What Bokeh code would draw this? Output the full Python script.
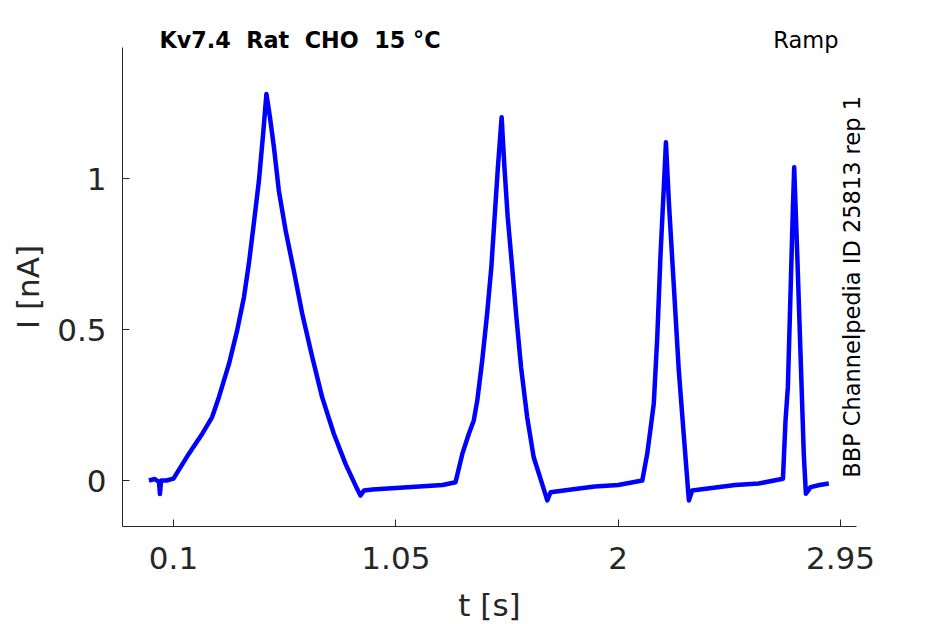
import math
from bokeh.plotting import figure
from bokeh.models import Range1d, FixedTicker, Label
from bokeh.embed import file_html
from bokeh.resources import INLINE

# ---- data (time in s, current in nA) ----
t_s = [
    -0.005, 0.02, 0.038, 0.042, 0.047, 0.07, 0.10,
    0.165, 0.223, 0.265, 0.294, 0.337, 0.372, 0.401, 0.422, 0.443, 0.465, 0.483, 0.497,
    0.512, 0.529, 0.55, 0.579, 0.614, 0.65, 0.693, 0.735, 0.785, 0.835, 0.878, 0.899,
    0.914, 0.95, 1.05, 1.15, 1.25, 1.305,
    1.334, 1.362, 1.383, 1.398, 1.419, 1.44, 1.458, 1.472, 1.486, 1.502,
    1.514, 1.528, 1.547, 1.565, 1.585, 1.611, 1.639, 1.675, 1.697,
    1.711, 1.8, 1.9, 2.0, 2.103,
    2.124, 2.141, 2.152, 2.167, 2.181, 2.195, 2.204,
    2.217, 2.238, 2.259, 2.281, 2.302,
    2.316, 2.4, 2.5, 2.6, 2.704,
    2.715, 2.725, 2.737, 2.747, 2.752,
    2.765, 2.779, 2.793, 2.802,
    2.822, 2.86, 2.9,
]
i_nA = [
    0.0, 0.005, -0.005, -0.045, 0.0, 0.0, 0.006,
    0.088, 0.155, 0.21, 0.276, 0.386, 0.497, 0.607, 0.718, 0.85, 0.993, 1.148, 1.28,
    1.203, 1.104, 0.96, 0.828, 0.695, 0.552, 0.408, 0.276, 0.155, 0.055, -0.017, -0.05,
    -0.033, -0.03, -0.025, -0.02, -0.015, -0.006,
    0.088, 0.155, 0.199, 0.265, 0.397, 0.552, 0.706, 0.872, 1.037, 1.203,
    1.037, 0.872, 0.706, 0.541, 0.375, 0.21, 0.077, -0.011, -0.066,
    -0.039, -0.03, -0.02, -0.015, 0.0,
    0.088, 0.188, 0.254, 0.475, 0.75, 0.971, 1.12,
    0.916, 0.64, 0.364, 0.143, -0.066,
    -0.033, -0.025, -0.015, -0.01, 0.006,
    0.199, 0.309, 0.64, 0.916, 1.037,
    0.75, 0.42, 0.088, -0.044,
    -0.022, -0.015, -0.01,
]

x_ticks = [0.1, 1.05, 2.0, 2.95]
x_tick_labels = ["0.1", "1.05", "2", "2.95"]
y_ticks = [0.0, 0.5, 1.0]
y_tick_labels = ["0", "0.5", "1"]

# visible axes extent (data units)
x_lo, x_hi = -0.1179, 3.0184
y_lo, y_hi = -0.1523, 1.4338

# double gaps kept visible in SVG with a no-break space
title_text = "Kv7.4 \u00a0Rat \u00a0CHO \u00a015 \u00b0C"
protocol_text = "Ramp"
side_text = "BBP Channelpedia ID 25813 rep 1"
x_label = "t [s]"
y_label = "I [nA]"

FONT = "DejaVu Sans"
AX = "#262626"

# the plotting frame fills the whole canvas; the axes are pinned at the data
# box edges so that texts around the box are not clipped
p = figure(
    width=945, height=624,
    output_backend="svg", toolbar_location=None,
    x_range=Range1d(-0.6392, 3.3985), y_range=Range1d(-0.4768, 1.5894),
    min_border=0,
)
p.outline_line_color = None
p.grid.visible = False
p.background_fill_color = "white"
p.border_fill_color = "white"

p.line(t_s, i_nA, line_color="#0000ff", line_width=4.5, line_join="round")

for ax, ticks, labels in ((p.xaxis[0], x_ticks, x_tick_labels), (p.yaxis[0], y_ticks, y_tick_labels)):
    ax.ticker = FixedTicker(ticks=ticks)
    ax.major_label_overrides = {tk: lb for tk, lb in zip(ticks, labels)}
    ax.minor_tick_line_color = None
    ax.major_tick_in = 7
    ax.major_tick_out = 0
    ax.major_tick_line_color = AX
    ax.axis_line_color = AX
    ax.major_label_text_font = FONT
    ax.major_label_text_font_size = "31px"
    ax.major_label_text_color = AX
    ax.axis_label_text_font = FONT
    ax.axis_label_text_font_size = "31px"
    ax.axis_label_text_font_style = "normal"
    ax.axis_label_text_color = AX

p.xaxis.fixed_location = y_lo
p.xaxis.bounds = (x_lo, x_hi)
p.yaxis.fixed_location = x_lo
p.yaxis.bounds = (y_lo, y_hi)

p.xaxis.axis_label = x_label
p.yaxis.axis_label = y_label
p.xaxis.major_label_standoff = 21
p.xaxis.axis_label_standoff = 14
p.yaxis.major_label_standoff = 16
p.yaxis.axis_label_standoff = 8

p.add_layout(Label(x=0.0402, y=1.4572, text=title_text,
                   text_font=FONT, text_font_size="22.3px", text_font_style="bold",
                   text_color="black", text_align="left", text_baseline="alphabetic"))
p.add_layout(Label(x=2.9413, y=1.4602, text=protocol_text,
                   text_font=FONT, text_font_size="22.5px", text_color="black",
                   text_align="right", text_baseline="alphabetic"))
p.add_layout(Label(x=2.999, y=0.641, text=side_text,
                   text_font=FONT, text_font_size="22.5px", text_color="black",
                   text_align="center", text_baseline="alphabetic", angle=math.pi / 2))

open("out.html", "w").write(file_html(p, INLINE))
